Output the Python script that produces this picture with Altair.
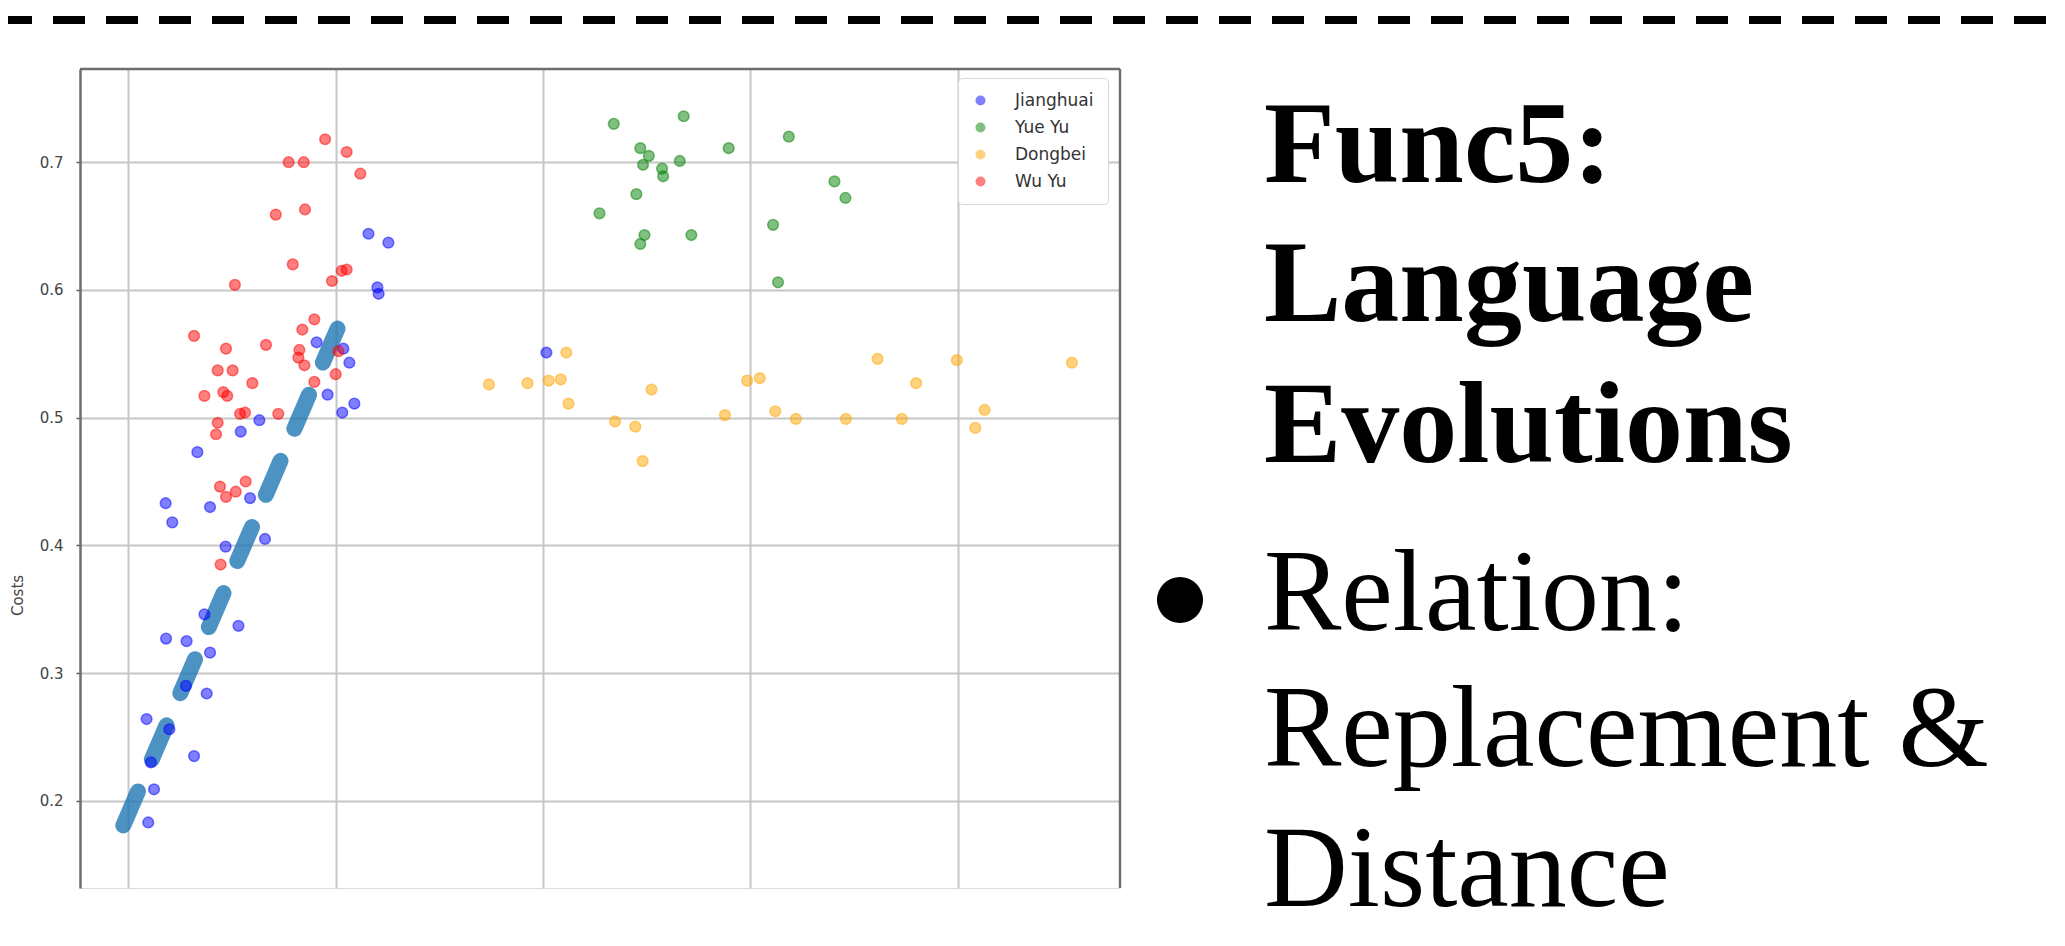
import altair as alt
import pandas as pd

# ---------------- data ----------------
series_names = ["Jianghuai", "Yue Yu", "Dongbei", "Wu Yu"]
series_colors = ["#0000ff", "#008000", "#ffa500", "#ff0000"]

jh_x = [1.158, 1.254, 1.201, 1.207, 0.908, 1.037, 1.066, 0.961, 1.09, 1.032, 0.632, 0.542,
        0.333, 0.180, 0.212, 0.394, 0.587, 0.659, 0.469, 0.367, 0.531, 0.182, 0.281, 0.394,
        0.278, 0.378, 0.088, 0.198, 0.317, 0.109, 0.124, 0.096, 2.016]
jh_y = [0.644, 0.637, 0.602, 0.597, 0.559, 0.554, 0.543, 0.518, 0.511, 0.504, 0.498, 0.489,
        0.473, 0.433, 0.418, 0.430, 0.437, 0.405, 0.399, 0.346, 0.337, 0.327, 0.325, 0.316,
        0.290, 0.284, 0.264, 0.256, 0.235, 0.230, 0.209, 0.183, 0.551]

yy_x = [2.341, 2.678, 2.469, 2.510, 2.482, 2.659, 2.895, 2.574, 2.579, 3.185, 2.450, 2.272,
        3.405, 3.458, 3.109, 2.489, 2.469, 2.715, 3.133]
yy_y = [0.730, 0.736, 0.711, 0.705, 0.698, 0.701, 0.711, 0.695, 0.689, 0.720, 0.675, 0.660,
        0.685, 0.672, 0.651, 0.643, 0.636, 0.643, 0.606]

db_x = [1.739, 1.925, 2.027, 2.085, 2.112, 2.123, 2.523, 2.347, 2.445, 2.480, 2.877, 2.984,
        3.045, 3.120, 3.219, 3.460, 3.613, 3.799, 3.730, 3.995, 4.129, 4.084, 4.550]
db_y = [0.526, 0.527, 0.529, 0.530, 0.551, 0.511, 0.522, 0.497, 0.493, 0.466, 0.502, 0.529,
        0.531, 0.505, 0.499, 0.499, 0.546, 0.527, 0.499, 0.545, 0.506, 0.492, 0.543]

wy_x = [0.949, 1.053, 0.773, 0.846, 1.119, 0.711, 0.852, 0.793, 1.053, 1.029, 0.982, 0.514,
        0.897, 0.839, 0.317, 0.664, 0.471, 0.825, 0.820, 0.849, 0.431, 0.503, 1.0, 0.598,
        0.897, 0.367, 0.458, 0.477, 0.723, 0.539, 0.563, 0.431, 0.423, 0.442, 0.471, 0.518,
        0.566, 0.445, 1.013]
wy_y = [0.718, 0.708, 0.700, 0.700, 0.691, 0.659, 0.663, 0.620, 0.616, 0.615, 0.607, 0.604,
        0.577, 0.569, 0.564, 0.557, 0.554, 0.553, 0.547, 0.541, 0.537, 0.537, 0.534, 0.527,
        0.528, 0.517, 0.520, 0.517, 0.503, 0.503, 0.504, 0.496, 0.487, 0.446, 0.438, 0.442,
        0.450, 0.385, 0.552]

fit_x = [-0.024, 1.013]
fit_y = [0.1807, 0.5713]

y_ticks = [0.2, 0.3, 0.4, 0.5, 0.6, 0.7]
x_grid = [0, 1, 2, 3, 4]

title_lines = ["Func5:", "Language", "Evolutions"]
bullet_lines = ["Relation:", "Replacement &", "Distance"]

# ---------------- tables ----------------
frames = []
for name, xs, ys in zip(series_names, [jh_x, yy_x, db_x, wy_x], [jh_y, yy_y, db_y, wy_y]):
    frames.append(pd.DataFrame({"x": xs, "y": ys, "series": name}))
pts = pd.DataFrame(pd.concat(frames, ignore_index=True))
pts["order"] = range(len(pts))
fit = pd.DataFrame({"x": fit_x, "y": fit_y})

X_MIN, X_MAX = -0.233, 4.782
Y_MIN, Y_MAX = 0.1317, 0.773
W, H = 1040, 819

xscale = alt.Scale(domain=[X_MIN, X_MAX], nice=False, zero=False)
yscale = alt.Scale(domain=[Y_MIN, Y_MAX], nice=False, zero=False)
GRID = "#c6c6c6"
SPINE = "#6e6e6e"

xaxis = alt.Axis(values=x_grid, labels=False, ticks=False, domain=False, title=None,
                 grid=True, gridColor=GRID, gridWidth=2)
yaxis = alt.Axis(values=y_ticks, format=".1f", grid=True, gridColor=GRID, gridWidth=2,
                 domain=True, domainColor=SPINE, domainWidth=2.5,
                 ticks=True, tickSize=4, tickColor="#555", tickWidth=1.5,
                 labelFont="DejaVu Sans", labelFontSize=15, labelColor="#444", labelPadding=13,
                 title="Costs", titleFont="DejaVu Sans", titleFontSize=15,
                 titleFontWeight="normal", titleColor="#444",
                 titleX=-55, titleY=526, titleAngle=270, titleBaseline="bottom")

colscale = alt.Scale(domain=series_names, range=series_colors)

line = alt.Chart(fit).mark_line(
    color="#1f77b4", opacity=0.8, strokeWidth=16, strokeCap="round", strokeDash=[37, 35]
).encode(
    x=alt.X("x:Q", scale=xscale, axis=xaxis),
    y=alt.Y("y:Q", scale=yscale, axis=yaxis),
)

scatter = alt.Chart(pts).mark_circle(
    size=115, fillOpacity=0.5, strokeOpacity=0.5, strokeWidth=1.5
).encode(
    x=alt.X("x:Q", scale=xscale, axis=xaxis),
    y=alt.Y("y:Q", scale=yscale, axis=yaxis),
    color=alt.Color("series:N", scale=colscale, sort=series_names,
                    legend=alt.Legend(title=None, orient="none", legendX=878, legendY=9,
                                      padding=14, strokeColor="#d6d6d6", cornerRadius=4,
                                      fillColor="white", symbolType="circle", symbolSize=100,
                                      symbolOpacity=0.5, symbolStrokeWidth=0,
                                      labelFont="DejaVu Sans", labelFontSize=17,
                                      labelColor="#333", labelOffset=26, rowPadding=9)),
    stroke=alt.Stroke("series:N", scale=colscale, legend=None),
    order=alt.Order("order:Q"),
)

top_spine = alt.Chart(pd.DataFrame({"y": [Y_MAX]})).mark_rule(
    color=SPINE, strokeWidth=2.5
).encode(y=alt.Y("y:Q", scale=yscale, axis=yaxis))

right_spine = alt.Chart(pd.DataFrame({"x": [X_MAX]})).mark_rule(
    color=SPINE, strokeWidth=2.5
).encode(x=alt.X("x:Q", scale=xscale, axis=xaxis))

dash_top = alt.Chart(pd.DataFrame({"a": [0]})).mark_rule(
    color="black", strokeWidth=8, strokeDash=[32, 21]
).encode(x=alt.value(-80), x2=alt.value(1990), y=alt.value(-49))

TX = 1184
text_layers = []
for txt, yb in zip(title_lines, [113, 252, 393]):
    text_layers.append(
        alt.Chart(pd.DataFrame({"a": [0]})).mark_text(
            text=txt, font="Liberation Serif", fontSize=116, fontWeight="bold",
            align="left", baseline="alphabetic", color="black"
        ).encode(x=alt.value(TX), y=alt.value(yb))
    )
for txt, yb in zip(bullet_lines, [561, 697, 837]):
    text_layers.append(
        alt.Chart(pd.DataFrame({"a": [0]})).mark_text(
            text=txt, font="Liberation Serif", fontSize=116, fontWeight="normal",
            align="left", baseline="alphabetic", color="black"
        ).encode(x=alt.value(TX), y=alt.value(yb))
    )

bullet = alt.Chart(pd.DataFrame({"a": [0]})).mark_point(
    shape="circle", filled=True, size=2124, color="black", opacity=1
).encode(x=alt.value(1100), y=alt.value(531))

chart = alt.layer(
    line, scatter, top_spine, right_spine, dash_top, bullet, *text_layers
).properties(
    width=W, height=H,
    autosize=alt.AutoSizeParams(type="none"),
    padding={"left": 72, "top": 61, "right": 937, "bottom": 44},
).configure_view(stroke=None).configure(background="white")

chart.save("out.html", embed_options={"renderer": "svg", "actions": False})
